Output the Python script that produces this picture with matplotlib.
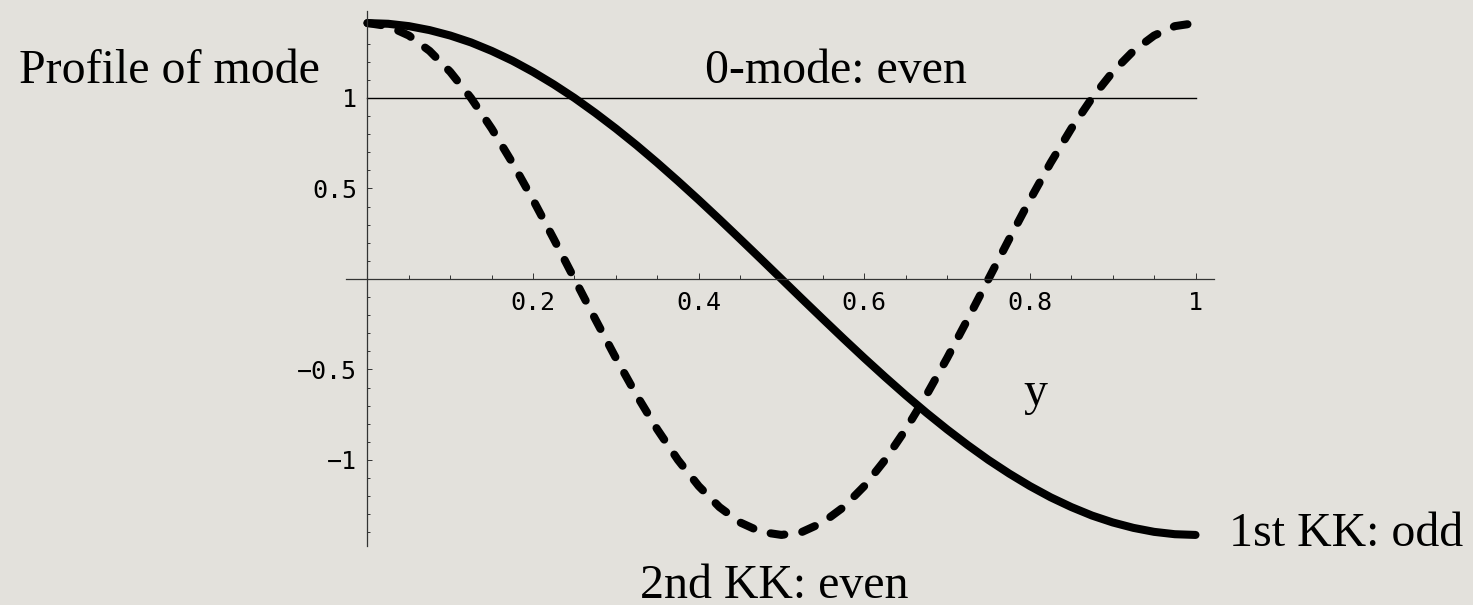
import numpy as np
import matplotlib
matplotlib.use("Agg")
import matplotlib.pyplot as plt

# Sample points along y in [0, 1]
y_pts = [0.000, 0.025, 0.050, 0.075, 0.100, 0.125, 0.150, 0.175, 0.200, 0.225,
         0.250, 0.275, 0.300, 0.325, 0.350, 0.375, 0.400, 0.425, 0.450, 0.475,
         0.500, 0.525, 0.550, 0.575, 0.600, 0.625, 0.650, 0.675, 0.700, 0.725,
         0.750, 0.775, 0.800, 0.825, 0.850, 0.875, 0.900, 0.925, 0.950, 0.975,
         1.000]

# Mode profiles
zero_mode = [1.0, 1.0]
first_kk = [1.414, 1.410, 1.397, 1.375, 1.345, 1.307, 1.260, 1.206, 1.144, 1.075,
            1.000, 0.918, 0.831, 0.739, 0.642, 0.541, 0.437, 0.330, 0.221, 0.111,
            0.000, -0.111, -0.221, -0.330, -0.437, -0.541, -0.642, -0.739, -0.831, -0.918,
            -1.000, -1.075, -1.144, -1.206, -1.260, -1.307, -1.345, -1.375, -1.397, -1.410,
            -1.414]
second_kk = [1.414, 1.397, 1.345, 1.260, 1.144, 1.000, 0.831, 0.642, 0.437, 0.221,
             0.000, -0.221, -0.437, -0.642, -0.831, -1.000, -1.144, -1.260, -1.345, -1.397,
             -1.414, -1.397, -1.345, -1.260, -1.144, -1.000, -0.831, -0.642, -0.437, -0.221,
             0.000, 0.221, 0.437, 0.642, 0.831, 1.000, 1.144, 1.260, 1.345, 1.397,
             1.414]

x_ticks = [0.2, 0.4, 0.6, 0.8, 1.0]
x_tick_labels = ["0.2", "0.4", "0.6", "0.8", "1"]
y_ticks = [-1.0, -0.5, 0.5, 1.0]
y_tick_labels = ["\u22121", "\u22120.5", "0.5", "1"]

bg = "#e3e1dc"
serif = "Liberation Serif"
plt.rcParams["lines.scale_dashes"] = False

fig = plt.figure(figsize=(14.73, 6.05), dpi=100, facecolor=bg)
ax = fig.add_axes([0, 0, 1, 1])
ax.set_facecolor(bg)
ax.set_xlim(-0.4438, 1.3351)
ax.set_ylim(-1.8011, 1.5414)

# axes crossing at the origin, Mathematica style
for side in ["top", "right"]:
    ax.spines[side].set_visible(False)
ax.spines["left"].set_position(("data", 0))
ax.spines["bottom"].set_position(("data", 0))
ax.spines["left"].set_bounds(-1.475, 1.48)
ax.spines["bottom"].set_bounds(-0.026, 1.022)
for side in ["left", "bottom"]:
    ax.spines[side].set_color("#333333")
    ax.spines[side].set_linewidth(0.9)

ax.set_xticks(x_ticks)
ax.set_xticklabels(x_tick_labels)
ax.set_yticks(y_ticks)
ax.set_yticklabels(y_tick_labels)
x_minor = [v for v in np.round(np.arange(0.05, 1.0, 0.05), 2) if v not in x_ticks]
y_minor = [v for v in np.round(np.arange(-1.4, 1.45, 0.1), 1) if v not in y_ticks and v != 0]
ax.set_xticks(x_minor, minor=True)
ax.set_yticks(y_minor, minor=True)

ax.tick_params(axis="x", which="major", direction="in", length=4, width=0.7,
               pad=9, labelsize=18, colors="#333333", labelcolor="black")
ax.tick_params(axis="x", which="minor", direction="in", length=2.9, width=0.7, colors="#333333")
ax.tick_params(axis="y", which="major", direction="in", length=3.3, width=0.7,
               pad=7.5, labelsize=18, colors="#333333", labelcolor="black")
ax.tick_params(axis="y", which="minor", direction="in", length=2.2, width=0.7, colors="#333333")
for lab in ax.get_xticklabels() + ax.get_yticklabels():
    lab.set_fontfamily("DejaVu Sans Mono")

# curves
ax.plot([0.0, 1.0], zero_mode, color="black", lw=1.0)
ax.plot(y_pts, first_kk, color="black", lw=5.8, solid_capstyle="round",
        solid_joinstyle="round")
ax.plot(y_pts, second_kk, color="black", lw=5.8, dashes=(10, 13),
        dash_capstyle="round", dash_joinstyle="round")

# labels
fs = 34.5
ax.text(-0.421, 1.083, "Profile of mode", family=serif, fontsize=fs, va="baseline", ha="left")
ax.text(0.4076, 1.083, "0-mode: even", family=serif, fontsize=fs, va="baseline", ha="left")
ax.text(0.806, -0.696, "y", family=serif, fontsize=fs, va="baseline", ha="center")
ax.text(1.0405, -1.475, "1st KK: odd", family=serif, fontsize=fs, va="baseline", ha="left")
ax.text(0.329, -1.762, "2nd KK: even", family=serif, fontsize=fs, va="baseline", ha="left")

fig.savefig("out.png", dpi=100, facecolor=bg)
